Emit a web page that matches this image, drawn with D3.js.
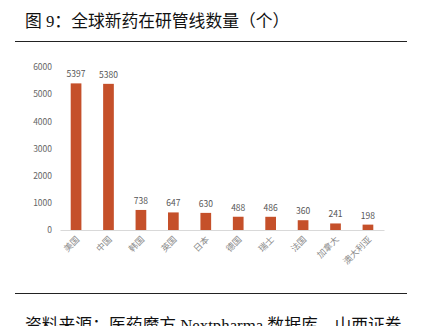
<!DOCTYPE html>
<html>
<head>
<meta charset="utf-8">
<script src="https://cdn.jsdelivr.net/npm/d3@7"></script>
<style>
  html, body { margin: 0; padding: 0; background: #fff; overflow: hidden; }
  svg { display: block; }
</style>
</head>
<body>
<svg id="chart" width="422" height="326"></svg>
<script>
// Pipeline counts by country
const countries = ["美国", "中国", "韩国", "英国", "日本", "德国", "瑞士", "法国", "加拿大", "澳大利亚"];
const pipelineCounts = [5397, 5380, 738, 647, 630, 488, 486, 360, 241, 198];
const yTicks = [0, 1000, 2000, 3000, 4000, 5000, 6000];

const titleText = "图 9：全球新药在研管线数量（个）";
const sourceText = "资料来源：医药魔方 Nextpharma 数据库，山西证券";

const svg = d3.select("#chart");
const fontMix = "'Liberation Serif', 'Noto Sans CJK SC', serif";
const fontChart = "'Noto Sans CJK SC', 'Open Sans', sans-serif";

// Title and rules
svg.append("text")
  .attr("x", 25).attr("y", 27)
  .attr("font-family", fontMix)
  .attr("font-size", 16.8)
  .attr("fill", "#111")
  .text(titleText);

svg.append("line")
  .attr("x1", 15).attr("x2", 407)
  .attr("y1", 41.5).attr("y2", 41.5)
  .attr("stroke", "#222").attr("stroke-width", 1.2);

svg.append("line")
  .attr("x1", 15).attr("x2", 407)
  .attr("y1", 293.5).attr("y2", 293.5)
  .attr("stroke", "#222").attr("stroke-width", 1.2);

svg.append("text")
  .attr("x", 25).attr("y", 331)
  .attr("font-family", fontMix)
  .attr("font-size", 16.8)
  .attr("fill", "#111")
  .text(sourceText);

// Plot area
const plotLeft = 60, plotRight = 384, plotTop = 67, plotBottom = 230;

const x = d3.scaleBand()
  .domain(countries)
  .range([plotLeft, plotRight])
  .paddingInner(0.67)
  .paddingOuter(0.33);

const y = d3.scaleLinear()
  .domain([0, 6000])
  .range([plotBottom, plotTop]);

// Y axis labels (no axis line)
const yAxis = d3.axisLeft(y).tickValues(yTicks).tickSize(0).tickPadding(8).tickFormat(d3.format("d"));
const yG = svg.append("g")
  .attr("transform", `translate(${plotLeft},0)`)
  .call(yAxis);
yG.select(".domain").remove();
yG.selectAll("text")
  .attr("font-family", fontChart)
  .attr("font-size", 8.5)
  .attr("fill", "#666");

// Bars
svg.append("g").selectAll("rect")
  .data(pipelineCounts)
  .join("rect")
  .attr("x", (d, i) => x(countries[i]))
  .attr("y", d => y(d))
  .attr("width", x.bandwidth())
  .attr("height", d => plotBottom - y(d))
  .attr("fill", "#C5502A");

// Value labels
svg.append("g").selectAll("text")
  .data(pipelineCounts)
  .join("text")
  .attr("x", (d, i) => x(countries[i]) + x.bandwidth() / 2)
  .attr("y", d => y(d) - 6)
  .attr("text-anchor", "middle")
  .attr("font-family", fontChart)
  .attr("font-size", 8.5)
  .attr("fill", "#555")
  .text(d => d);

// X axis baseline and rotated category labels
const xAxis = d3.axisBottom(x).tickSize(0).tickPadding(0);
const xG = svg.append("g")
  .attr("transform", `translate(0,${plotBottom})`)
  .call(xAxis);
xG.select(".domain")
  .attr("stroke", "#d9d9d9").attr("stroke-width", 1);
xG.selectAll("text")
  .attr("font-family", fontChart)
  .attr("font-size", 8.8)
  .attr("fill", "#8a8a8a")
  .attr("text-anchor", "end")
  .attr("dy", 0)
  .attr("transform", "translate(4,10) rotate(-45)");
</script>
</body>
</html>
